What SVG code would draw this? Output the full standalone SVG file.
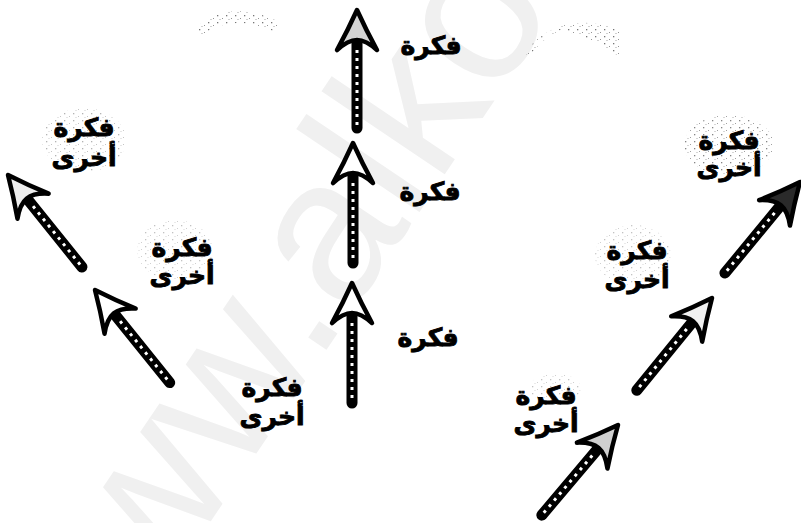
<svg xmlns="http://www.w3.org/2000/svg" xmlns:xlink="http://www.w3.org/1999/xlink" width="801" height="523" viewBox="0 0 801 523">
<style>
.shaft{stroke:#000;stroke-width:11;stroke-linecap:round;fill:none}
.dots{stroke:#fff;stroke-width:3;stroke-dasharray:3 5;fill:none}
.hd{stroke:#000;stroke-width:4.5;stroke-linejoin:round}
.lbl{font-family:"DejaVu Sans",sans-serif;font-weight:bold;font-size:25px;fill:#000;stroke:#000;stroke-width:0.9;text-anchor:middle}
.wm{font-family:"Liberation Sans",Arial,sans-serif;font-size:205px;fill:#f0f0f0}
.cloud{fill:url(#speck)}
</style>
<defs>
<pattern id="speck" width="9" height="7" patternUnits="userSpaceOnUse">
<rect x="1" y="1" width="1.3" height="1.3" fill="#666"/>
<rect x="6" y="4" width="1" height="1" fill="#888"/>
<rect x="3.5" y="5" width="1" height="1" fill="#999"/>
</pattern>
<path id="head" d="M0,0 Q9,20 20,40 Q9,30 0,30 Q-9,30 -20,40 Q-9,20 0,0 Z"/>
</defs>
<rect width="801" height="523" fill="#fff"/>
<text class="wm" transform="translate(74,724) rotate(-56)">www.alko</text>
<g id="clouds">
<path class="cloud" d="M195,28 Q230,-2 280,22 L275,32 Q232,12 200,36 Z" opacity="0.9"/>
<path class="cloud" d="M525,52 Q560,8 622,30 L620,58 Q600,40 560,30 Q540,40 528,58 Z" opacity="0.9"/>
<ellipse class="cloud" cx="84" cy="140" rx="42" ry="32" opacity="0.5"/>
<ellipse class="cloud" cx="175" cy="250" rx="38" ry="30" opacity="0.4"/>
<ellipse class="cloud" cx="729" cy="145" rx="45" ry="30" opacity="0.8"/>
<ellipse class="cloud" cx="633" cy="255" rx="38" ry="30" opacity="0.4"/>
<ellipse class="cloud" cx="555" cy="388" rx="26" ry="14" opacity="0.4"/>
</g>
<g id="connectors">
<g id="arrow-v1" transform="translate(357,10)"><line class="shaft" x1="0" y1="28" x2="0" y2="118"/><line class="dots" x1="0" y1="40" x2="0" y2="116"/><use xlink:href="#head" class="hd" fill="#d4d4d4"/></g>
<g id="arrow-v2" transform="translate(353,143)"><line class="shaft" x1="0" y1="28" x2="0" y2="120"/><line class="dots" x1="0" y1="40" x2="0" y2="118"/><use xlink:href="#head" class="hd" fill="#fff"/></g>
<g id="arrow-v3" transform="translate(352,283)"><line class="shaft" x1="0" y1="28" x2="0" y2="120"/><line class="dots" x1="0" y1="40" x2="0" y2="118"/><use xlink:href="#head" class="hd" fill="#fff"/></g>
<g id="arrow-l1" transform="translate(8,175) rotate(-38.8)"><line class="shaft" x1="0" y1="28" x2="0" y2="118"/><line class="dots" x1="0" y1="40" x2="0" y2="116"/><use xlink:href="#head" class="hd" fill="#eee"/></g>
<g id="arrow-l2" transform="translate(95,290) rotate(-38.9)"><line class="shaft" x1="0" y1="28" x2="0" y2="119"/><line class="dots" x1="0" y1="40" x2="0" y2="117"/><use xlink:href="#head" class="hd" fill="#fff"/></g>
<g id="arrow-r1" transform="translate(618,425) rotate(40.2)"><line class="shaft" x1="0" y1="28" x2="0" y2="118"/><line class="dots" x1="0" y1="40" x2="0" y2="116"/><use xlink:href="#head" class="hd" fill="#d0d0d0"/></g>
<g id="arrow-r2" transform="translate(712,298) rotate(39.2)"><line class="shaft" x1="0" y1="28" x2="0" y2="119"/><line class="dots" x1="0" y1="40" x2="0" y2="117"/><use xlink:href="#head" class="hd" fill="#f0f0f0"/></g>
<g id="arrow-r3" transform="translate(800,182) rotate(39.5)"><line class="shaft" x1="0" y1="28" x2="0" y2="118"/><line class="dots" x1="0" y1="40" x2="0" y2="116"/><use xlink:href="#head" class="hd" fill="#2a2a2a"/></g>
</g>
<g id="label-v1"><text class="lbl" x="431" y="54">فكرة</text></g>
<g id="label-v2"><text class="lbl" x="430" y="200">فكرة</text></g>
<g id="label-v3"><text class="lbl" x="428" y="346">فكرة</text></g>
<g id="label-l1"><text class="lbl" x="84" y="136">فكرة</text><text class="lbl" x="84" y="166">أخرى</text></g>
<g id="label-l2"><text class="lbl" x="182" y="256">فكرة</text><text class="lbl" x="182" y="284">أخرى</text></g>
<g id="label-c"><text class="lbl" x="272" y="396">فكرة</text><text class="lbl" x="272" y="425">أخرى</text></g>
<g id="label-r1"><text class="lbl" x="546" y="404">فكرة</text><text class="lbl" x="546" y="432">أخرى</text></g>
<g id="label-r2"><text class="lbl" x="637" y="259">فكرة</text><text class="lbl" x="637" y="288">أخرى</text></g>
<g id="label-r3"><text class="lbl" x="729" y="149">فكرة</text><text class="lbl" x="729" y="176">أخرى</text></g>
</svg>
